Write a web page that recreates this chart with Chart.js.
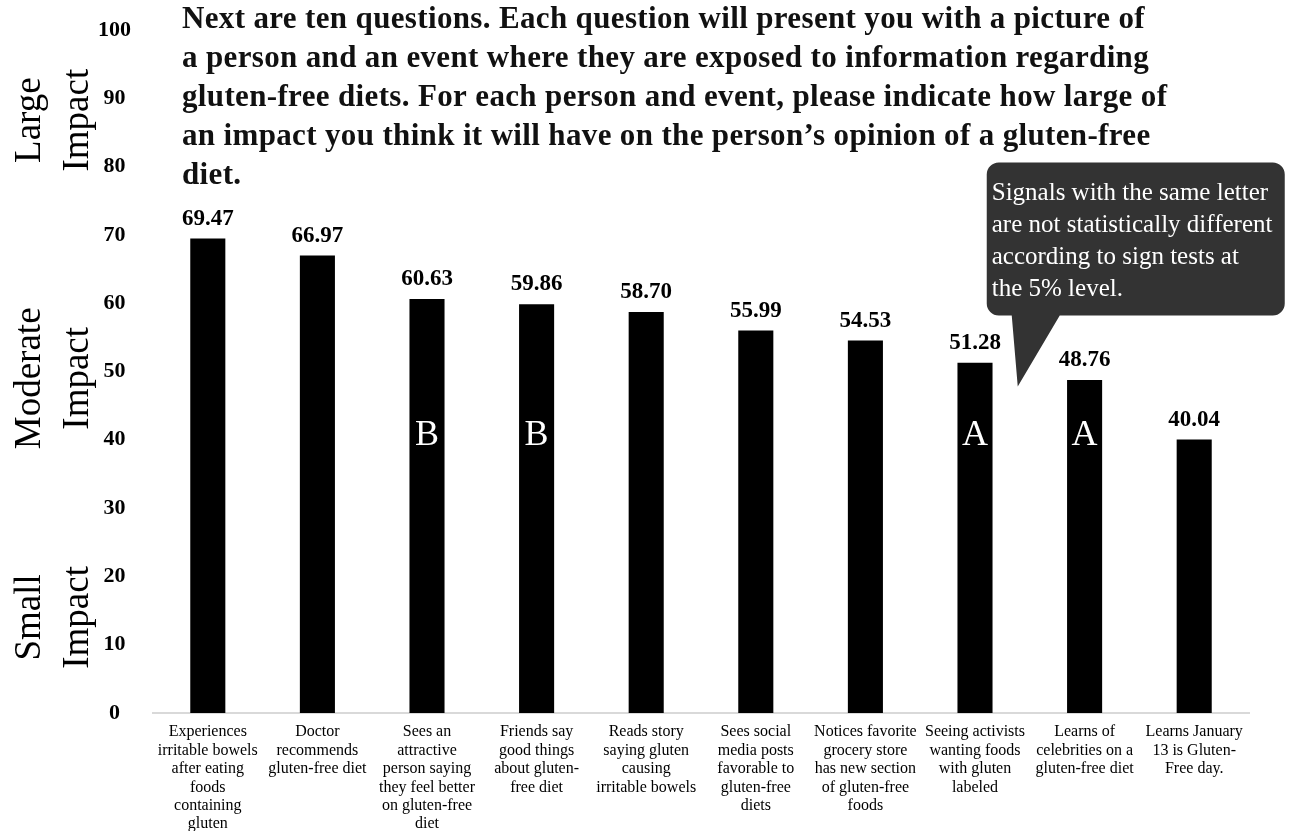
<!DOCTYPE html>
<html>
<head>
<meta charset="utf-8">
<title>Gluten-free signals</title>
<script src="https://cdn.jsdelivr.net/npm/chart.js@4.4.1/dist/chart.umd.min.js"></script>
<style>
  html, body { margin: 0; padding: 0; background: #fff; }
  #wrap { width: 1295px; height: 831px; }
</style>
</head>
<body>
<div id="wrap"><canvas id="impact_chart"></canvas></div>
<script>
var SERIF = '"Liberation Serif", "DejaVu Serif", serif';

// Signals shown to respondents (one per bar)
var categories = [
    ['Experiences', 'irritable bowels', 'after eating', 'foods', 'containing', 'gluten'],
    ['Doctor', 'recommends', 'gluten-free diet'],
    ['Sees an', 'attractive', 'person saying', 'they feel better', 'on gluten-free', 'diet'],
    ['Friends say', 'good things', 'about gluten-', 'free diet'],
    ['Reads story', 'saying gluten', 'causing', 'irritable bowels'],
    ['Sees social', 'media posts', 'favorable to', 'gluten-free', 'diets'],
    ['Notices favorite', 'grocery store', 'has new section', 'of gluten-free', 'foods'],
    ['Seeing activists', 'wanting foods', 'with gluten', 'labeled'],
    ['Learns of', 'celebrities on a', 'gluten-free diet'],
    ['Learns January', '13 is Gluten-', 'Free day.']
];

// Mean perceived impact (0-100)
var impactScores = [69.47, 66.97, 60.63, 59.86, 58.70, 55.99, 54.53, 51.28, 48.76, 40.04];

// Sign-test groups
var groupLetters = ['', '', 'B', 'B', '', '', '', 'A', 'A', ''];

// Verbal bands down the left side and the score each one is centred on
var impactBands = [['Large', 'Impact'], ['Moderate', 'Impact'], ['Small', 'Impact']];
var impactBandLevels = [86.8, 49, 14];

var titleLines = [
    'Next are ten questions. Each question will present you with a picture of',
    'a person and an event where they are exposed to information regarding',
    'gluten-free diets. For each person and event, please indicate how large of',
    'an impact you think it will have on the person\u2019s opinion of a gluten-free',
    'diet.'
];

var noteLines = [
    'Signals with the same letter',
    'are not statistically different',
    'according to sign tests at',
    'the 5% level.'
];

// draws value labels, group letters, the question text, band labels and the note bubble
var annotate = {
    id: 'annotate',
    afterDatasetsDraw: function (chart) {
        var ctx = chart.ctx;
        var y = chart.scales.y;
        var bars = chart.getDatasetMeta(0).data;
        ctx.save();
        ctx.textAlign = 'center';
        ctx.textBaseline = 'alphabetic';
        bars.forEach(function (bar, i) {
            ctx.fillStyle = '#000';
            ctx.font = 'bold 23px ' + SERIF;
            ctx.fillText(impactScores[i].toFixed(2), bar.x, bar.y - 14);
            if (groupLetters[i]) {
                ctx.fillStyle = '#fff';
                ctx.font = '36px ' + SERIF;
                ctx.fillText(groupLetters[i], bar.x, y.getPixelForValue(39.2));
            }
        });
        ctx.restore();
    },
    afterDraw: function (chart) {
        var ctx = chart.ctx;
        var x = chart.scales.x;
        var y = chart.scales.y;
        ctx.save();

        // question text across the top, first line spans about 963px
        ctx.fillStyle = '#111';
        ctx.textAlign = 'left';
        ctx.textBaseline = 'alphabetic';
        ctx.font = 'bold 31px ' + SERIF;
        var spare = 963 - ctx.measureText(titleLines[0]).width;
        var spacing = Math.max(0, Math.min(1, spare / titleLines[0].length));
        ctx.letterSpacing = spacing.toFixed(2) + 'px';
        titleLines.forEach(function (line, i) {
            ctx.fillText(line, 182, 28 + i * 39);
        });
        ctx.letterSpacing = '0px';

        // rotated band labels
        ctx.fillStyle = '#000';
        ctx.font = '37px ' + SERIF;
        ctx.textAlign = 'center';
        impactBands.forEach(function (band, i) {
            var cy = y.getPixelForValue(impactBandLevels[i]);
            ctx.save();
            ctx.translate(0, cy);
            ctx.rotate(-Math.PI / 2);
            ctx.fillText(band[0], 0, 40);
            ctx.fillText(band[1], 0, 88);
            ctx.restore();
        });

        // note bubble with a tail pointing down between the A bars
        var tipX = x.getPixelForValue(7.39);
        var tipY = y.getPixelForValue(47.8);
        var L = tipX - 31, R = tipX + 267, T = tipY - 224, B = tipY - 71, r = 12;
        ctx.fillStyle = '#333333';
        ctx.beginPath();
        ctx.moveTo(L + r, T);
        ctx.lineTo(R - r, T);
        ctx.arcTo(R, T, R, T + r, r);
        ctx.lineTo(R, B - r);
        ctx.arcTo(R, B, R - r, B, r);
        ctx.lineTo(tipX + 42, B);
        ctx.lineTo(tipX, tipY);
        ctx.lineTo(tipX - 6, B);
        ctx.lineTo(L + r, B);
        ctx.arcTo(L, B, L, B - r, r);
        ctx.lineTo(L, T + r);
        ctx.arcTo(L, T, L + r, T, r);
        ctx.closePath();
        ctx.fill();

        ctx.fillStyle = '#fff';
        ctx.font = '25px ' + SERIF;
        ctx.textAlign = 'left';
        noteLines.forEach(function (line, i) {
            ctx.fillText(line, L + 5, T + 37 + i * 32.3);
        });

        ctx.restore();
    }
};

var impact_ctx = document.getElementById('impact_chart');

var impact_chart = new Chart(impact_ctx, {
    type: 'bar',
    data: {
        labels: categories,
        datasets: [{
            data: impactScores,
            backgroundColor: '#000',
            borderWidth: 0,
            barPercentage: 0.32,
            categoryPercentage: 1.0
        }]
    },
    options: {
        responsive: true,
        maintainAspectRatio: false,
        animation: false,
        devicePixelRatio: 1,
        layout: {
            padding: { top: 30, right: 46, bottom: 0, left: 0 }
        },
        plugins: {
            legend: { display: false },
            tooltip: { enabled: false },
            title: { display: false }
        },
        scales: {
            x: {
                grid: { display: false, drawTicks: false },
                border: { display: true, color: '#d9d9d9', width: 2 },
                ticks: {
                    color: '#000',
                    padding: 10,
                    maxRotation: 0,
                    autoSkip: false,
                    font: { family: SERIF, size: 16, lineHeight: 1.15 }
                },
                afterFit: function (scale) { scale.height = 118; }
            },
            y: {
                min: 0,
                max: 100,
                grid: { display: false, drawTicks: false },
                border: { display: false },
                ticks: {
                    stepSize: 10,
                    color: '#000',
                    padding: 22,
                    crossAlign: 'center',
                    font: { family: SERIF, size: 22, weight: 'bold' }
                },
                afterFit: function (scale) {
                    // plot top is set by the layout padding alone
                    scale.width = 153;
                    scale.paddingTop = 0;
                    scale.paddingBottom = 0;
                }
            }
        }
    },
    plugins: [annotate]
});
</script>
</body>
</html>
